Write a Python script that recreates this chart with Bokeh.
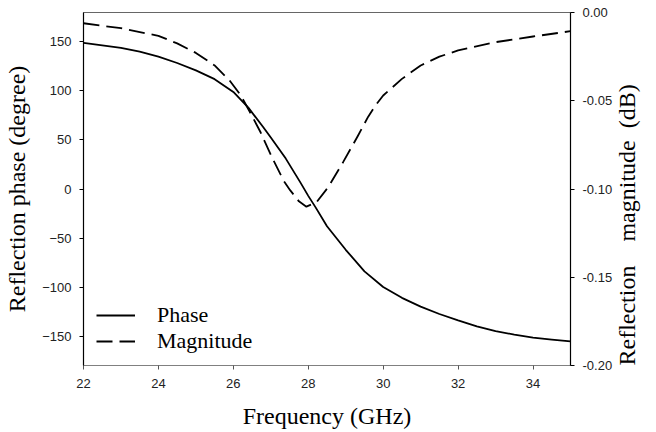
import math
from bokeh.plotting import figure
from bokeh.models import (Range1d, LinearAxis, FixedTicker, NumeralTickFormatter,
                          Legend, LegendItem, ColumnDataSource)
from bokeh.embed import file_html
from bokeh.resources import INLINE

# ---- data ----
phase_freq = [22, 23, 23.5, 24, 24.5, 25, 25.5, 26, 26.4, 26.8, 27, 27.4, 27.8, 28,
              28.2, 28.5, 29, 29.5, 30, 30.5, 31, 31.5, 32, 32.5, 33, 33.5, 34,
              34.5, 35]
phase_deg = [149, 144, 140, 135, 128.5, 121, 112, 99, 83, 63, 52.5, 31, 6, -7,
             -19, -38, -62, -84, -100, -111, -120, -127.5, -134, -140, -145,
             -148.5, -151.5, -153.7, -155.5]

mag_freq = [22, 23, 24, 24.5, 25, 25.5, 25.9, 26.2, 26.42, 26.73, 27.03, 27.34, 27.52,
            27.75, 27.95, 28.22, 28.53, 28.93, 29.33, 29.6, 29.8, 30, 30.5, 31, 31.5,
            32, 33, 34, 35]
mag_db = [-0.0061, -0.0089, -0.0132, -0.0175, -0.0229, -0.030, -0.0385, -0.047,
          -0.0555, -0.0680, -0.082, -0.0952, -0.1008, -0.107, -0.110, -0.1075,
          -0.099, -0.0848, -0.0697, -0.059, -0.0525, -0.047, -0.0376, -0.030,
          -0.025, -0.0215, -0.0168, -0.0136, -0.0106]

x_ticks = [22, 24, 26, 28, 30, 32, 34]
phase_ticks = [-150, -100, -50, 0, 50, 100, 150]
mag_ticks = [-0.20, -0.15, -0.10, -0.05, 0.00]

TICK_FONT = "Liberation Sans"
LABEL_FONT = "Liberation Serif"

p = figure(width=656, height=432, output_backend="svg", toolbar_location=None,
           x_range=Range1d(22, 35), y_range=Range1d(-180, 180),
           min_border_left=83, min_border_right=81, min_border_top=12,
           min_border_bottom=67)
p.extra_y_ranges = {"mag": Range1d(-0.2, 0.0)}

p.grid.visible = False
p.outline_line_color = "#666666"
p.outline_line_width = 1
p.background_fill_color = "white"
p.border_fill_color = "white"

src_p = ColumnDataSource(dict(x=phase_freq, y=phase_deg))
src_m = ColumnDataSource(dict(x=mag_freq, y=mag_db))

r_phase = p.line("x", "y", source=src_p, line_color="black", line_width=1.8,
                 line_join="round")
r_mag = p.line("x", "y", source=src_m, y_range_name="mag", line_color="black",
               line_width=1.8, line_dash="16 7", line_join="round")

xa = p.xaxis[0]
xa.ticker = FixedTicker(ticks=x_ticks)
xa.axis_label = "Frequency (GHz)"

ya = p.yaxis[0]
ya.ticker = FixedTicker(ticks=phase_ticks)
ya.axis_label = "Reflection phase (degree)"

ra = LinearAxis(y_range_name="mag", ticker=FixedTicker(ticks=mag_ticks),
                formatter=NumeralTickFormatter(format="0.00"),
                axis_label="Reflection\u2003magnitude\u2002(dB)")
p.add_layout(ra, "right")

for ax in (xa, ya, ra):
    ax.major_label_text_font = TICK_FONT
    ax.major_label_text_font_size = "13px"
    ax.major_label_text_color = "#222222"
    ax.axis_label_text_font = LABEL_FONT
    ax.axis_label_text_font_size = "24px"
    ax.axis_label_text_font_style = "normal"
    ax.axis_label_text_color = "black"
    ax.major_tick_in = 0
    ax.major_tick_out = 4
    ax.minor_tick_in = 0
    ax.minor_tick_out = 0
    ax.major_tick_line_color = "black"
    ax.axis_line_color = "black"
    ax.axis_line_width = 1.2

xa.axis_line_color = "#808080"
xa.major_tick_line_color = "#555555"
xa.major_label_standoff = 9
xa.axis_label_standoff = 12
ya.major_label_standoff = 8
ya.axis_label_standoff = 9
ra.major_label_standoff = 8
ra.axis_label_standoff = 12
ra.axis_label_orientation = math.pi / 2
ra.axis_label_align = "start"

legend = Legend(items=[LegendItem(label="Phase", renderers=[r_phase]),
                       LegendItem(label="Magnitude", renderers=[r_mag])],
                location=(13, 11))
legend.label_text_font = LABEL_FONT
legend.label_text_font_size = "22px"
legend.label_text_color = "black"
legend.label_height = 26
legend.glyph_height = 26
legend.glyph_width = 39
legend.label_standoff = 22
legend.spacing = 0
legend.padding = 0
legend.margin = 0
legend.border_line_color = None
legend.background_fill_alpha = 0
p.add_layout(legend, "center")

open("out.html", "w").write(file_html(p, INLINE))
